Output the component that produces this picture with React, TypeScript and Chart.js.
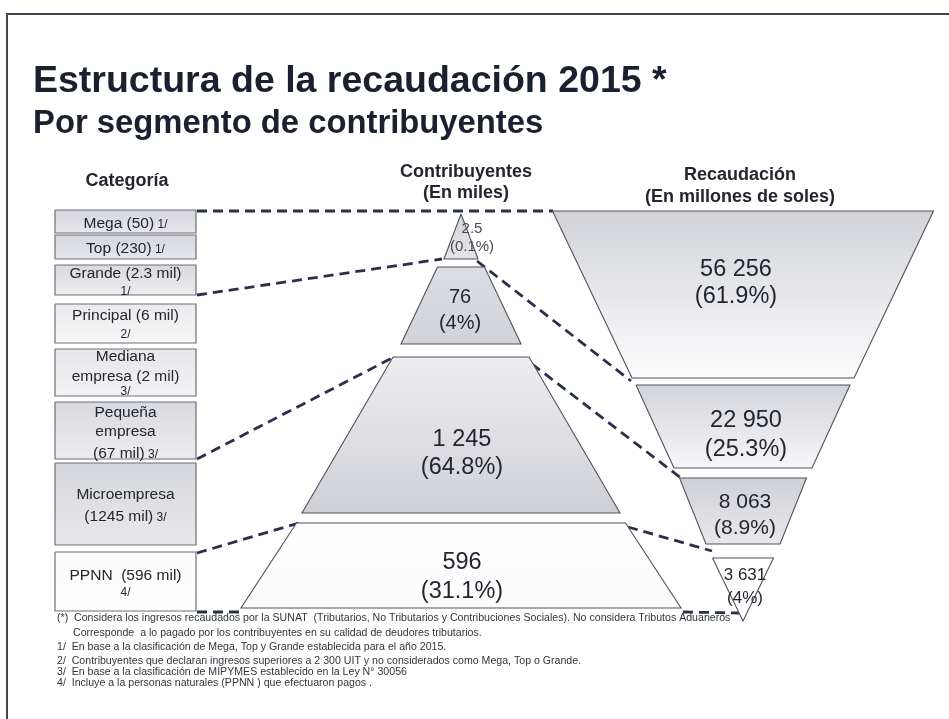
import React, { useEffect, useRef } from 'react';
import { Chart, registerables } from 'chart.js';

Chart.register(...registerables);

// ---------------- DATA ----------------
const title = 'Estructura de la recaudación 2015 *';
const subtitle = 'Por segmento de contribuyentes';
const headerCategory = ['Categoría'];
const headerContrib = ['Contribuyentes', '(En miles)'];
const headerRevenue = ['Recaudación', '(En millones de soles)'];

const categoryLabels = [
  ['Mega (50)'],
  ['Top (230)'],
  ['Grande (2.3 mil)'],
  ['Principal (6 mil)'],
  ['Mediana', 'empresa (2 mil)'],
  ['Pequeña', 'empresa', '(67 mil)'],
  ['Microempresa', '(1245 mil)'],
  ['PPNN  (596 mil)'],
];
const categoryNotes = ['1/', '1/', '1/', '2/', '3/', '3/', '3/', '4/'];

const contribValues = [2.5, 76, 1245, 596];
const contribShares = [0.1, 4, 64.8, 31.1];

const revenueValues = [56256, 22950, 8063, 3631];
const revenueShares = [61.9, 25.3, 8.9, 4];

const footnotes = [
  '(*)  Considera los ingresos recaudados por la SUNAT  (Tributarios, No Tributarios y Contribuciones Sociales). No considera Tributos Aduaneros',
  'Corresponde  a lo pagado por los contribuyentes en su calidad de deudores tributarios.',
  '1/  En base a la clasificación de Mega, Top y Grande establecida para el año 2015.',
  '2/  Contribuyentes que declaran ingresos superiores a 2 300 UIT y no considerados como Mega, Top o Grande.',
  '3/  En base a la clasificación de MIPYMES establecido en la Ley N° 30056',
  '4/  Incluye a la personas naturales (PPNN ) que efectuaron pagos .',
];

// ---------------- LAYOUT (slide units) ----------------
const W = 949;
const H = 719;
const FONT = '"Liberation Sans", Arial, Helvetica, sans-serif';
const INK = '#23262f';

const boxX = [55, 196];
const boxRows = [
  [210, 233], [235, 259], [265, 295], [304, 343],
  [349, 396], [402, 459], [463, 545], [552, 611],
];
const boxFills = [
  ['#d6d7dd', '#e6e7eb'], ['#d6d7dd', '#e6e7eb'], ['#d9dadf', '#ececef'], ['#ebebee', '#f6f6f7'],
  ['#e6e6ea', '#f3f3f5'], ['#d9dadf', '#ececef'], ['#d6d7dc', '#e8e8ec'], ['#fbfbfb', '#ffffff'],
];
const boxTextY = [
  [222], [247], [274, 292], [316, 335], [357, 377, 392], [413, 432, 452], [495, 515], [576, 593],
];
const noteOwnLine = [false, false, true, true, true, false, false, true];

const pyramid = {
  cx: 461,
  bands: [[214, 259], [267, 344], [357, 513], [523, 608]],
  halfTop: [0, 23.5, 68, 164.5],
  halfBottom: [17, 60, 159, 220],
  fills: [['#d4d5db', '#e4e4e8'], ['#dcdde2', '#d2d3d8'], ['#eeeef1', '#cfd0d6'], ['#ffffff', '#fbfbfc']],
  labelX: [472, 460, 462, 462],
  labelY: [[229, 247], [297, 323], [440, 468], [563, 592]],
  fontSize: [15, 20, 23.5, 23.5],
  color: ['#4a4a52', INK, INK, INK],
};

const funnel = {
  cx: 743,
  bands: [[211, 378], [385, 468], [478, 544], [558, 621]],
  halfTop: [190.5, 107, 63.5, 30.5],
  halfBottom: [111, 69, 37, 0],
  fills: [['#d2d3d9', '#fcfcfd'], ['#d3d4da', '#f7f7f9'], ['#cfd0d6', '#e9e9ec'], ['#ffffff', '#ffffff']],
  labelX: [736, 746, 745, 745],
  labelY: [[270, 297], [421, 450], [502, 528], [575, 598]],
  fontSize: [23.5, 23.5, 21, 17],
};

const connectors = [
  [197, 211, 553, 211],
  [197, 295, 442, 259],
  [477, 261, 631, 381],
  [197, 459, 394, 357],
  [532, 364, 681, 478],
  [197, 553, 299, 523],
  [628, 527, 712, 551],
  [197, 612, 243, 612],
  [683, 612, 740, 613],
];

const footX = [57, 73, 57, 57, 57, 57];
const footY = [618, 633, 647, 661, 672, 683];

// ---------------- HELPERS ----------------
function fmtNum(v: number): string {
  const [i, d] = String(v).split('.');
  const g = i.replace(/\B(?=(\d{3})+(?!\d))/g, ' ');
  return d ? `${g}.${d}` : g;
}
const fmtPct = (v: number) => `(${v}%)`;

function vGrad(top: number, bottom: number, c0: string, c1: string) {
  return (c: any) => {
    const chart = c.chart;
    const ys = chart && chart.scales ? chart.scales.y : null;
    if (!ys || !chart.chartArea) return c1;
    const g = chart.ctx.createLinearGradient(0, ys.getPixelForValue(top), 0, ys.getPixelForValue(bottom));
    g.addColorStop(0, c0);
    g.addColorStop(1, c1);
    return g;
  };
}

function trapezoid(cx: number, y0: number, y1: number, ht: number, hb: number) {
  return [
    { x: cx - ht, y: y0 },
    { x: cx + ht, y: y0 },
    { x: cx + hb, y: y1 },
    { x: cx - hb, y: y1 },
    { x: cx - ht, y: y0 },
  ];
}

function shapeDataset(points: any[], fill: string[], y0: number, y1: number, border: string, bw: number) {
  return {
    type: 'line' as const,
    data: points,
    fill: 'shape',
    backgroundColor: vGrad(y0, y1, fill[0], fill[1]),
    borderColor: border,
    borderWidth: bw,
    pointRadius: 0,
    tension: 0,
    order: 1,
  };
}

const textPlugin = {
  id: 'slideText',
  afterDatasetsDraw(chart: any) {
    const { ctx } = chart;
    const xs = chart.scales.x;
    const ys = chart.scales.y;
    const px = (v: number) => xs.getPixelForValue(v);
    const py = (v: number) => ys.getPixelForValue(v);
    const put = (t: string, x: number, y: number, size: number, bold: boolean, color: string, align: CanvasTextAlign = 'center', base: CanvasTextBaseline = 'middle') => {
      ctx.font = `${bold ? 'bold ' : ''}${size}px ${FONT}`;
      ctx.fillStyle = color;
      ctx.textAlign = align;
      ctx.textBaseline = base;
      ctx.fillText(t, px(x), py(y));
    };
    ctx.save();

    // title
    put(title, 33, 92, 37.5, true, '#1b2030', 'left', 'alphabetic');
    put(subtitle, 33, 133, 32.8, true, '#1b2030', 'left', 'alphabetic');

    // headers
    put(headerCategory[0], 127, 181, 18, true, INK);
    headerContrib.forEach((t, i) => put(t, 466, 172 + i * 21, 18, true, INK));
    headerRevenue.forEach((t, i) => put(t, 740, 175 + i * 22, 18, true, INK));

    // category boxes text
    const bcx = (boxX[0] + boxX[1]) / 2;
    categoryLabels.forEach((lines, i) => {
      const ys2 = boxTextY[i];
      lines.forEach((t, j) => {
        const isLast = j === lines.length - 1;
        if (isLast && !noteOwnLine[i]) {
          ctx.font = `15.5px ${FONT}`;
          const w1 = ctx.measureText(t).width;
          ctx.font = `12px ${FONT}`;
          const w2 = ctx.measureText(' ' + categoryNotes[i]).width;
          const start = px(bcx) - (w1 + w2) / 2;
          ctx.fillStyle = INK;
          ctx.textBaseline = 'alphabetic';
          ctx.textAlign = 'left';
          const base = py(ys2[j]) + 5.5;
          ctx.font = `15.5px ${FONT}`;
          ctx.fillText(t, start, base);
          ctx.font = `12px ${FONT}`;
          ctx.fillText(' ' + categoryNotes[i], start + w1, base);
        } else {
          put(t, bcx, ys2[j], 15.5, false, INK);
        }
      });
      if (noteOwnLine[i]) {
        put(categoryNotes[i], bcx, ys2[lines.length], 12, false, INK);
      }
    });

    // pyramid labels
    contribValues.forEach((v, i) => {
      put(fmtNum(v), pyramid.labelX[i], pyramid.labelY[i][0], pyramid.fontSize[i], false, pyramid.color[i]);
      put(fmtPct(contribShares[i]), pyramid.labelX[i], pyramid.labelY[i][1], pyramid.fontSize[i], false, pyramid.color[i]);
    });
    // funnel labels
    revenueValues.forEach((v, i) => {
      put(fmtNum(v), funnel.labelX[i], funnel.labelY[i][0], funnel.fontSize[i], false, INK);
      put(fmtPct(revenueShares[i]), funnel.labelX[i], funnel.labelY[i][1], funnel.fontSize[i], false, INK);
    });

    // footnotes
    footnotes.forEach((t, i) => put(t, footX[i], footY[i], 10.6, false, '#33353c', 'left', 'middle'));

    ctx.restore();
  },
};

export default function App() {
  const ref = useRef<HTMLCanvasElement | null>(null);
  useEffect(() => {
    if (!ref.current) return;
    const datasets: any[] = [];

    // slide frame
    datasets.push({
      type: 'line', data: [{ x: 7, y: H }, { x: 7, y: 14 }, { x: W, y: 14 }],
      borderColor: '#40444e', borderWidth: 2, pointRadius: 0, fill: false, order: 3,
    });

    // connectors
    connectors.forEach((c) => {
      datasets.push({
        type: 'line', data: [{ x: c[0], y: c[1] }, { x: c[2], y: c[3] }],
        borderColor: '#28304c', borderWidth: 2.8, borderDash: [10, 6], pointRadius: 0, fill: false, order: 2,
      });
    });

    // category boxes
    boxRows.forEach((r, i) => {
      const pts = [
        { x: boxX[0], y: r[0] }, { x: boxX[1], y: r[0] }, { x: boxX[1], y: r[1] },
        { x: boxX[0], y: r[1] }, { x: boxX[0], y: r[0] },
      ];
      datasets.push(shapeDataset(pts, boxFills[i], r[0], r[1], '#6e6f78', 1.2));
    });

    // pyramid (contribuyentes)
    pyramid.bands.forEach((b, i) => {
      datasets.push(shapeDataset(trapezoid(pyramid.cx, b[0], b[1], pyramid.halfTop[i], pyramid.halfBottom[i]), pyramid.fills[i], b[0], b[1], '#50525c', 1.1));
    });
    // funnel (recaudación)
    funnel.bands.forEach((b, i) => {
      datasets.push(shapeDataset(trapezoid(funnel.cx, b[0], b[1], funnel.halfTop[i], funnel.halfBottom[i]), funnel.fills[i], b[0], b[1], '#50525c', 1.1));
    });

    const chart = new Chart(ref.current, {
      type: 'line',
      data: { datasets },
      options: {
        responsive: false,
        maintainAspectRatio: false,
        animation: false,
        events: [],
        layout: { padding: 0 },
        scales: {
          x: { type: 'linear', min: 0, max: W, display: false },
          y: { type: 'linear', min: 0, max: H, reverse: true, display: false },
        },
        plugins: { legend: { display: false }, tooltip: { enabled: false } },
        elements: { line: { tension: 0 }, point: { radius: 0 } },
      },
      plugins: [textPlugin],
    } as any);
    return () => chart.destroy();
  }, []);

  return (
    <div style={{ position: 'fixed', left: 0, top: 0, width: W, height: H, background: '#ffffff' }}>
      <canvas ref={ref} width={W} height={H} style={{ display: 'block', width: W, height: H }} />
    </div>
  );
}
